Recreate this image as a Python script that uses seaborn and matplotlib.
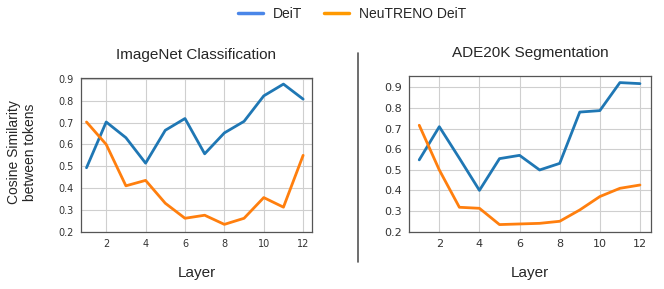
import numpy as np
import pandas as pd
import seaborn as sns
import matplotlib.pyplot as plt
from matplotlib.lines import Line2D

# layer index and cosine similarity values
layers = list(range(1, 13))
imagenet_deit = [0.493, 0.703, 0.631, 0.514, 0.665, 0.719, 0.557, 0.653, 0.706, 0.823, 0.877, 0.808]
imagenet_neutreno = [0.703, 0.600, 0.410, 0.435, 0.330, 0.261, 0.275, 0.233, 0.261, 0.356, 0.312, 0.550]
ade_deit = [0.548, 0.709, 0.556, 0.400, 0.554, 0.570, 0.499, 0.531, 0.780, 0.787, 0.923, 0.918]
ade_neutreno = [0.716, 0.499, 0.318, 0.313, 0.234, 0.237, 0.240, 0.250, 0.305, 0.370, 0.410, 0.426]

model_names = ["DeiT", "NeuTRENO DeiT"]
titles = ["ImageNet Classification", "ADE20K Segmentation"]
yticks = [0.2, 0.3, 0.4, 0.5, 0.6, 0.7, 0.8, 0.9]
xticks = [2, 4, 6, 8, 10, 12]


def to_long(deit, neu):
    return pd.DataFrame({
        "Layer": layers * 2,
        "Similarity": deit + neu,
        "Model": [model_names[0]] * 12 + [model_names[1]] * 12,
    })


sns.set_style("whitegrid", {"grid.color": "#cfcfcf", "axes.edgecolor": "#555555"})
plt.rcParams["font.family"] = ["DejaVu Sans"]

fig = plt.figure(figsize=(6.64, 2.89), dpi=100)
ax1 = fig.add_axes([81 / 664, 57 / 289, 231 / 664, 154 / 289])
ax2 = fig.add_axes([409 / 664, 57 / 289, 242 / 664, 156 / 289])

palette = {"DeiT": "#1f77b4", "NeuTRENO DeiT": "#ff7f0e"}
panels = [
    (ax1, to_long(imagenet_deit, imagenet_neutreno), (0.72, 12.45), (0.198, 0.905), 7),
    (ax2, to_long(ade_deit, ade_neutreno), (0.49, 12.55), (0.198, 0.955), 8),
]

for (ax, df, xl, yl, fs), title in zip(panels, titles):
    sns.lineplot(data=df, x="Layer", y="Similarity", hue="Model", palette=palette,
                 linewidth=2, ax=ax, legend=False)
    ax.set_xlim(*xl)
    ax.set_ylim(*yl)
    ax.set_xticks(xticks)
    ax.set_yticks(yticks)
    ax.set_yticklabels([f"{v:.1f}" for v in yticks])
    ax.tick_params(labelsize=fs, colors="#333333", length=3, width=0.6, pad=2)
    for s in ax.spines.values():
        s.set_linewidth(0.9)
    ax.set_title(title, fontsize=11, family="Liberation Sans", pad=14)
    ax.set_xlabel("Layer", fontsize=11, family="Liberation Sans", labelpad=12)
    ax.set_ylabel("")

fig.text(22 / 664, 1 - 152 / 289, "Cosine Similarity\nbetween tokens", rotation=90,
         ha="center", va="center", multialignment="center", fontsize=10,
         family="Liberation Sans", linespacing=1.1)

# separator between the panels
fig.add_artist(Line2D([358 / 664, 358 / 664], [1 - 53 / 289, 1 - 262 / 289],
                      color="#555555", linewidth=1.2))

handles = [Line2D([], [], color="#4a86e8", linewidth=2.5),
           Line2D([], [], color="#ff9900", linewidth=2.5)]
fig.legend(handles, model_names, loc="center", bbox_to_anchor=(352 / 664, 1 - 14 / 289),
           ncol=2, frameon=False, prop={"family": "Liberation Sans", "size": 10},
           handlelength=1.8, columnspacing=1.6, handletextpad=0.7)

fig.savefig("out.png", dpi=100)
